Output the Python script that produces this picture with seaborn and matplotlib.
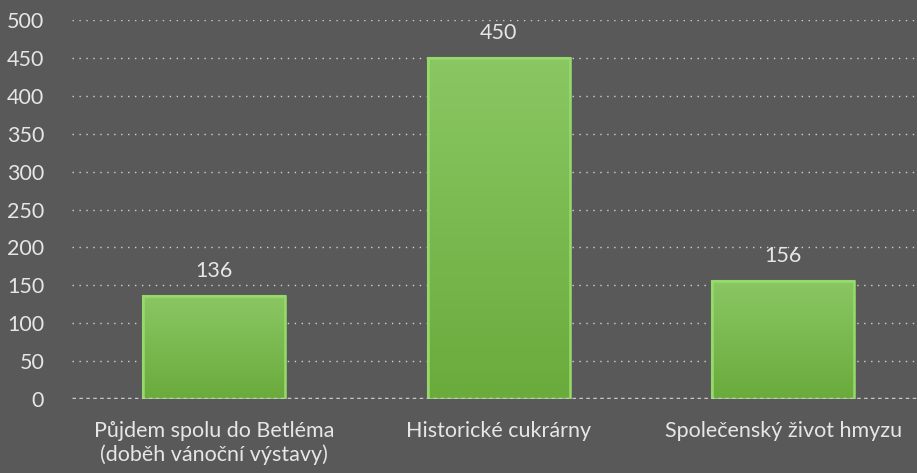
import matplotlib
matplotlib.use("Agg")
import matplotlib.pyplot as plt
import seaborn as sns
import pandas as pd
import numpy as np
from matplotlib.colors import LinearSegmentedColormap

categories = ["Půjdem spolu do Betléma\n(doběh vánoční výstavy)",
              "Historické cukrárny",
              "Společenský život hmyzu"]
values = [136, 450, 156]
y_ticks = [0, 50, 100, 150, 200, 250, 300, 350, 400, 450, 500]

bg = "#595959"
txt = "#e6e6e6"

sns.set_theme(style="dark")
plt.rcParams["font.family"] = ["Lato", "DejaVu Sans"]

df = pd.DataFrame({"kategorie": categories, "pocet": values})

fig = plt.figure(figsize=(9.17, 4.73), dpi=100, facecolor=bg)
ax = fig.add_axes([0.0785, 0.156, 0.9215, 0.802], facecolor=bg)

sns.barplot(data=df, x="kategorie", y="pocet", color="#76b846",
            edgecolor="#95d96a", linewidth=1.5, width=0.5, saturation=1, ax=ax)

# vertical gradient fill inside each bar
grad = LinearSegmentedColormap.from_list("g", ["#6aab3c", "#8ac763"])
for p in ax.patches:
    x0, y0 = p.get_x(), p.get_y()
    w, h = p.get_width(), p.get_height()
    im = ax.imshow(np.linspace(0, 1, 100).reshape(-1, 1), cmap=grad,
                   extent=[x0, x0 + w, y0, y0 + h], origin="lower",
                   aspect="auto", zorder=p.get_zorder() + 0.1)
    im.set_clip_path(p)
    ax.add_patch(plt.Rectangle((x0, y0), w, h, fill=False,
                               edgecolor="#96da6b", linewidth=1.8,
                               zorder=p.get_zorder() + 0.2))

ax.set_ylim(0, 500)
ax.set_yticks(y_ticks)
ax.set_xlim(-0.5, 2.47)
ax.yaxis.grid(True, color="#d0d0d0", linestyle=(0, (1, 4)), linewidth=1)
ax.xaxis.grid(False)
ax.set_axisbelow(True)
ax.axhline(0, color="#c8c8c8", linewidth=2.5, linestyle=(0, (1, 1)), zorder=5)

for s in ax.spines.values():
    s.set_visible(False)

ax.tick_params(axis="both", colors=txt, labelsize=15.5, length=0)
ax.tick_params(axis="y", pad=20)
ax.tick_params(axis="x", pad=16)
ax.set_xlabel("")
ax.set_ylabel("")

for i, v in enumerate(values):
    ax.text(i, v + 20, str(v), ha="center", va="bottom", color=txt, fontsize=15.5)

fig.savefig("out.png", dpi=100, facecolor=bg)
